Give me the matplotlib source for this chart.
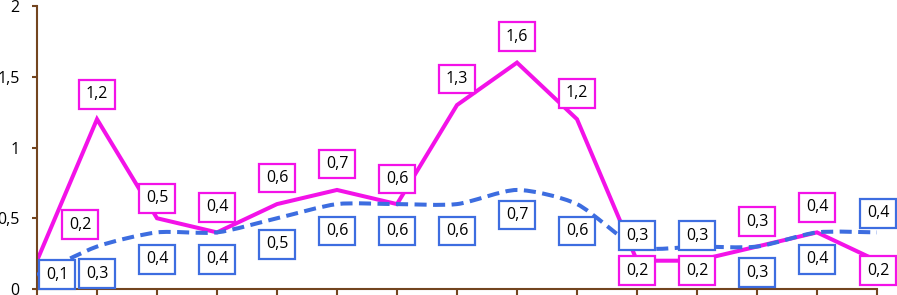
import numpy as np
import matplotlib
matplotlib.use("Agg")
import matplotlib.pyplot as plt
from matplotlib.path import Path
from matplotlib.patches import PathPatch

plt.rcParams["font.family"] = ["Open Sans", "DejaVu Sans"]

# Data
pink_values = [0.2, 1.2, 0.5, 0.4, 0.6, 0.7, 0.6, 1.3, 1.6, 1.2, 0.2, 0.2, 0.3, 0.4, 0.2]
blue_values = [0.1, 0.3, 0.4, 0.4, 0.5, 0.6, 0.6, 0.6, 0.7, 0.6, 0.3, 0.3, 0.3, 0.4, 0.4]
y_ticks = [0, 0.5, 1, 1.5, 2]
y_tick_labels = ["0", "0,5", "1", "1,5", "2"]

# Label offsets in pixels (dx, dy), placement style only
pink_offsets = [(43, 36), (0, 25), (0, 20), (0, 25), (0, 26), (0, 26), (0, 25), (0, 26),
                (0, 26), (0, 26), (0, -10), (0, -10), (0, 25), (0, 25), (1, -10)]
blue_offsets = [(20, 0), (0, -27), (0, -27), (0, -27), (0, -26), (0, -27), (0, -27), (0, -27),
                (0, -25), (0, -27), (0, 11), (0, 11), (0, -26), (0, -27), (1, 19)]

pink = "#f312e8"
blue = "#3d6de0"
axis_color = "#73451f"


def smooth_path(xs, ys, k=8):
    # smoothed line drawn as cubic Bezier segments
    pts = np.column_stack([xs, ys]).astype(float)
    verts = [pts[0]]
    codes = [Path.MOVETO]
    n = len(pts)
    for i in range(n - 1):
        p0 = pts[max(i - 1, 0)]
        p1 = pts[i]
        p2 = pts[i + 1]
        p3 = pts[min(i + 2, n - 1)]
        c1 = p1 + (p2 - p0) / k
        c2 = p2 - (p3 - p1) / k
        verts += [c1, c2, p2]
        codes += [Path.CURVE4] * 3
    return Path(verts, codes)


def fmt(v):
    return f"{v:.1f}".replace(".", ",")


fig = plt.figure(figsize=(8.97, 2.95), dpi=100)
ax = fig.add_axes([37 / 897, 6 / 295, 840 / 897, 283 / 295])

x = np.arange(len(pink_values))

ax.plot(x, pink_values, color=pink, lw=2.9, solid_joinstyle="miter", zorder=2)

patch = PathPatch(smooth_path(x, blue_values), fill=False, edgecolor=blue, lw=2.9,
                  linestyle=(0, (3, 1.6)), zorder=3, capstyle="butt")
ax.add_patch(patch)

for values, offsets, color in [(pink_values, pink_offsets, pink),
                               (blue_values, blue_offsets, blue)]:
    for xi, v, (dx, dy) in zip(x, values, offsets):
        ax.annotate(fmt(v), (xi, v), xytext=(dx, dy), textcoords="offset pixels",
                    ha="center", va="center", fontsize=11.5, color="black", zorder=5,
                    bbox=dict(boxstyle="square,pad=0.4", fc="white", ec=color, lw=1.6),
                    annotation_clip=False)

ax.set_xlim(0, 14)
ax.set_ylim(0, 2)
ax.set_xticks(x)
ax.set_xticklabels([])
ax.set_yticks(y_ticks)
ax.set_yticklabels(y_tick_labels)

for side in ["top", "right"]:
    ax.spines[side].set_visible(False)
for side in ["left", "bottom"]:
    ax.spines[side].set_color(axis_color)
    ax.spines[side].set_linewidth(1.5)

ax.tick_params(axis="y", direction="out", length=3.5, width=1.5, color=axis_color,
               pad=9, labelsize=11.5)
ax.tick_params(axis="x", direction="out", length=6, width=1.5, color=axis_color)

fig.savefig("out.png", dpi=100)
